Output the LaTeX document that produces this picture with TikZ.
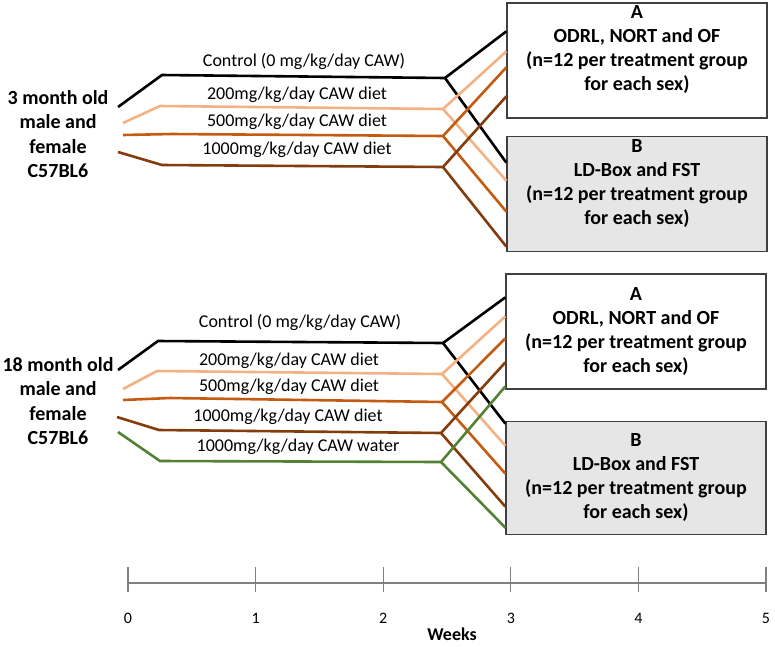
\documentclass[tikz,border=0pt]{standalone}
\usepackage{fontspec}
\setmainfont{Carlito}
\usetikzlibrary{positioning}

\definecolor{dose0}{RGB}{0,0,0}
\definecolor{dose200}{RGB}{244,177,131}
\definecolor{dose500}{RGB}{197,90,17}
\definecolor{dose1000}{RGB}{132,60,12}
\definecolor{dosewater}{RGB}{84,130,53}
\definecolor{boxline}{RGB}{64,64,64}
\definecolor{boxgray}{RGB}{231,230,230}
\definecolor{axisgray}{RGB}{128,128,128}

\begin{document}
\begin{tikzpicture}[
    x=1pt, y=-1pt,
    treat/.style={line width=2.6pt, line join=miter},
    testbox/.style={rectangle, draw=boxline, line width=1.3pt, fill=white, minimum width=260pt, minimum height=115pt, inner sep=0pt, align=center, font=\fontsize{20}{24}\selectfont\bfseries},
    group/.style={align=center, font=\fontsize{20}{24.5}\selectfont\bfseries},
    dose/.style={font=\fontsize{18}{22}\selectfont, inner sep=0pt},
    axis/.style={draw=axisgray, line width=1.1pt},
    week/.style={font=\fontsize{16}{20}\selectfont}
]
\useasboundingbox (0,0) rectangle (775,646);

% Behaviour test boxes (top ones carry an empty last line to lift the text)
\node[testbox] (A1) at (637,60.5) {A\\ODRL, NORT and OF\\(n=12 per treatment group\\for each sex)\\\mbox{}};
\node[testbox, fill=boxgray, below=17pt of A1] (B1) {B\\LD-Box and FST\\(n=12 per treatment group\\for each sex)\\\mbox{}};
\node[testbox] (A2) at (636,331.5) {A\\ODRL, NORT and OF\\(n=12 per treatment group\\for each sex)};
\node[testbox, fill=boxgray, below=31pt of A2, minimum height=113pt] (B2) {B\\LD-Box and FST\\(n=12 per treatment group\\for each sex)};

% Mouse groups
\node[group] (young) at (58,134) {3 month old\\male and\\female\\C57BL6};
\node[group] (old) at (58,401) {18 month old\\male and\\female\\C57BL6};

% Top panel: start, bend and split points
\coordinate (y0s) at (118,107);  \coordinate (y0b) at (162,75);  \coordinate (y0j) at (445,78);
\coordinate (y2s) at (123,123);  \coordinate (y2b) at (160,106); \coordinate (y2j) at (443,109);
\coordinate (y5s) at (123,135);  \coordinate (y5b) at (172,134); \coordinate (y5j) at (443,136);
\coordinate (y10s) at (118,152); \coordinate (y10b) at (162,165); \coordinate (y10j) at (443,167);

% Bottom panel: start, bend and split points
\coordinate (o0s) at (118,370);  \coordinate (o0b) at (158,341);  \coordinate (o0j) at (443,343);
\coordinate (o2s) at (123,389);  \coordinate (o2b) at (157,371);  \coordinate (o2j) at (442,374);
\coordinate (o5s) at (123,400);  \coordinate (o5b) at (170,398);  \coordinate (o5j) at (442,402);
\coordinate (o10s) at (117,417); \coordinate (o10b) at (159,430); \coordinate (o10j) at (441,433);
\coordinate (ows) at (118,432);  \coordinate (owb) at (160,461);  \coordinate (owj) at (441,462);

% Top panel treatments
\draw[treat, dose0] (y0s) -- (y0b) -- (y0j) -- ([yshift=-29pt]A1.north west);
\draw[treat, dose0] (y0j) -- ([yshift=-27pt]B1.north west);
\draw[treat, dose200] (y2s) -- (y2b) -- (y2j) -- ([yshift=-49pt]A1.north west);
\draw[treat, dose200] (y2j) -- ([yshift=-45pt]B1.north west);
\draw[treat, dose500] (y5s) -- (y5b) -- (y5j) -- ([yshift=-65pt]A1.north west);
\draw[treat, dose500] (y5j) -- ([yshift=-76pt]B1.north west);
\draw[treat, dose1000] (y10s) -- (y10b) -- (y10j) -- ([yshift=-94pt]A1.north west);
\draw[treat, dose1000] (y10j) -- ([yshift=-111pt]B1.north west);

% Bottom panel treatments
\draw[treat, dose0] (o0s) -- (o0b) -- (o0j) -- ([yshift=-24pt]A2.north west);
\draw[treat, dose0] (o0j) -- ([yshift=-3pt]B2.north west);
\draw[treat, dose200] (o2s) -- (o2b) -- (o2j) -- ([yshift=-43pt]A2.north west);
\draw[treat, dose200] (o2j) -- ([yshift=-25pt]B2.north west);
\draw[treat, dose500] (o5s) -- (o5b) -- (o5j) -- ([yshift=-65pt]A2.north west);
\draw[treat, dose500] (o5j) -- ([yshift=-53pt]B2.north west);
\draw[treat, dose1000] (o10s) -- (o10b) -- (o10j) -- ([yshift=-89pt]A2.north west);
\draw[treat, dose1000] (o10j) -- ([yshift=-86pt]B2.north west);
\draw[treat, dosewater] (ows) -- (owb) -- (owj) -- ([yshift=-113pt]A2.north west);
\draw[treat, dosewater] (owj) -- ([yshift=-107pt]B2.north west);

% Treatment labels
\node[dose] (ly0) at (304,61) {Control (0 mg/kg/day CAW)};
\node[dose] (ly2) at (297,95) {200mg/kg/day CAW diet};
\node[dose] (ly5) at (297,122) {500mg/kg/day CAW diet};
\node[dose] (ly10) at (297,150) {1000mg/kg/day CAW diet};
\node[dose] (lo0) at (300,322) {Control (0 mg/kg/day CAW)};
\node[dose] (lo2) at (289,361) {200mg/kg/day CAW diet};
\node[dose] (lo5) at (289,387) {500mg/kg/day CAW diet};
\node[dose] (lo10) at (288,417) {1000mg/kg/day CAW diet};
\node[dose] (low) at (298,447) {1000mg/kg/day CAW water};

% Time axis
\coordinate (ax0) at (128,583);
\coordinate (ax5) at (766,583);
\draw[axis] (ax0) -- (ax5);
\foreach \i in {0,...,5} {
    \coordinate (t\i) at (128+127.6*\i,583);
    \draw[axis] ([yshift=16pt]t\i) -- ([yshift=-9pt]t\i);
    \node[week] (w\i) at (128+127.6*\i,618) {\i};
}
\node[week, inner sep=0pt, font=\fontsize{18}{20}\selectfont\bfseries] (weeks) at (452,634) {Weeks};

\end{tikzpicture}
\end{document}
